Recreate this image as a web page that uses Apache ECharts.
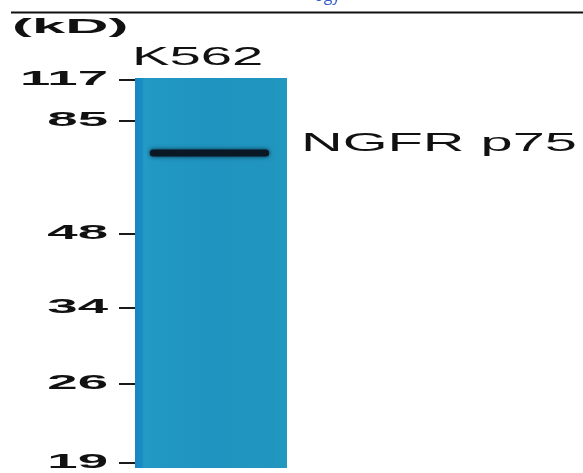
<!DOCTYPE html>
<html>
<head>
<meta charset="utf-8">
<script src="https://cdn.jsdelivr.net/npm/echarts@6/dist/echarts.min.js"></script>
<style>html,body{margin:0;padding:0;background:#fff;}#c{width:583px;height:473px;}</style>
</head>
<body>
<div id="c"></div>
<script>
// Marker ladder (kD) and their migration distance from the top of the lane
const markerLabels = ['117', '85', '48', '34', '26', '19'];
const markerMigration = [2, 43, 156, 230, 306, 385];
// Lane and detected band
const laneNames = ['K562'];
const bandLabels = ['NGFR p75'];
const bandMigration = [75];
const laneLength = 390;

const chart = echarts.init(document.getElementById('c'), null, {renderer: 'canvas'});

const laneFill = new echarts.graphic.LinearGradient(0, 0, 1, 0, [
  {offset: 0, color: '#1888c4'},
  {offset: 0.045, color: '#1a8bc3'},
  {offset: 0.06, color: '#249bc7'},
  {offset: 0.12, color: '#2197c3'},
  {offset: 0.5, color: '#1f94c0'},
  {offset: 0.9, color: '#2096bf'},
  {offset: 1, color: '#2298c0'}
]);

const option = {
  animation: false,
  backgroundColor: '#ffffff',
  grid: {left: 135, top: 78, width: 152, height: 390, show: true, borderWidth: 0, backgroundColor: laneFill},
  xAxis: {type: 'value', min: 0, max: 1, show: false},
  yAxis: {
    type: 'value', min: 0, max: laneLength, inverse: true, offset: 9,
    axisLine: {show: false},
    splitLine: {show: false},
    axisLabel: {show: false},
    axisTick: {show: true, customValues: markerMigration, length: 16, inside: false,
      lineStyle: {color: '#1a1a1a', width: 2}}
  },
  series: [{
    type: 'line',
    name: bandLabels[0],
    symbol: 'none',
    data: [[0.12, bandMigration[0]], [0.86, bandMigration[0]]],
    lineStyle: {color: '#0a1826', width: 7, cap: 'round', shadowBlur: 4, shadowColor: 'rgba(5,20,35,0.8)'}
  }]
};
chart.setOption(option);

const txtBase = {fontFamily: 'Liberation Sans, Arial, sans-serif', fill: '#111'};
const graphics = [
  {type: 'line', shape: {x1: 11, y1: 12.5, x2: 583, y2: 12.5}, style: {stroke: '#111', lineWidth: 2}},
  {type: 'text', x: 314, y: -12, style: {text: 'ogy', font: '16px "Open Sans", sans-serif', fill: '#3a5fc8', textVerticalAlign: 'top'}},
  {type: 'text', x: 12, y: 27, scaleX: 2.85, style: Object.assign({}, txtBase, {text: '(kD)', fontSize: 21, fontWeight: 'bold', textAlign: 'left', textVerticalAlign: 'middle'})},
  {type: 'text', x: 132, y: 58, scaleX: 2.25, style: Object.assign({}, txtBase, {text: laneNames[0], fontSize: 25, textAlign: 'left', textVerticalAlign: 'middle'})}
];
const bandY = chart.convertToPixel({yAxisIndex: 0}, bandMigration[0]);
graphics.push({type: 'text', x: 301, y: bandY - 9, scaleX: 2.22, style: Object.assign({}, txtBase, {text: bandLabels[0], fontSize: 26, textAlign: 'left', textVerticalAlign: 'middle'})});
markerLabels.forEach(function (lab, i) {
  const py = chart.convertToPixel({yAxisIndex: 0}, markerMigration[i]);
  graphics.push({type: 'text', x: 108, y: py - 1, scaleX: 2.6, style: Object.assign({}, txtBase, {text: lab, fontSize: 21, fontWeight: 'bold', textAlign: 'right', textVerticalAlign: 'middle'})});
});
chart.setOption({graphic: graphics});
</script>
</body>
</html>
